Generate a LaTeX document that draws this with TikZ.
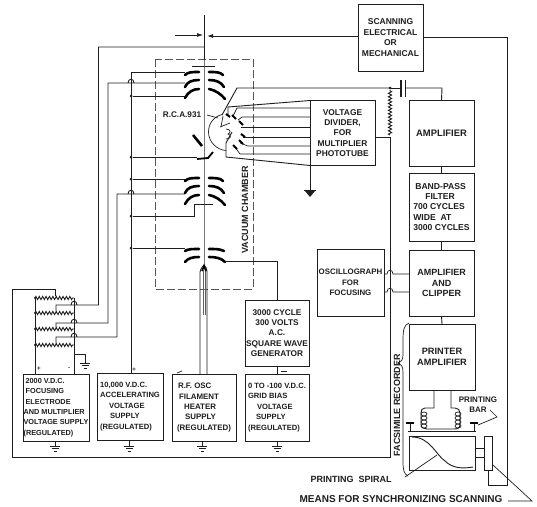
\documentclass[tikz,border=0pt]{standalone}
\usepackage{fontspec}
\setmainfont{Liberation Sans}
\usetikzlibrary{decorations.pathmorphing,arrows.meta}
\definecolor{ink}{HTML}{1E1E1E}
\newcommand{\txt}[1]{\fontsize{#1}{10.4}\selectfont\bfseries}
\newcommand{\hopat}[2]{-- (#1-3,#2) .. controls (#1-3,#2-5) and (#1+3,#2-5) .. (#1+3,#2)}
\newcommand{\gnd}[2]{\draw[wire] (#1,#2) -- (#1,#2+5) (#1-5,#2+5) -- (#1+5,#2+5) (#1-3.5,#2+7.5) -- (#1+3.5,#2+7.5) (#1-1.5,#2+10) -- (#1+1.5,#2+10);}
\tikzset{
  wire/.style={draw=ink,line width=0.9pt},
  thin wire/.style={draw=ink,line width=0.7pt},
  box/.style={draw=ink,line width=1pt,inner sep=0pt,outer sep=0pt,align=center,text=ink},
  label/.style={inner sep=0pt,outer sep=0pt,align=center,text=ink},
  electrode/.style={draw=black,line width=2.6pt,line cap=round},
  res/.style={wire,decorate,decoration={zigzag,amplitude=1.6pt,segment length=3.4pt}},
  dot/.style={circle,fill=ink,inner sep=0pt,minimum size=3pt},
  dyn/.style={draw=black,line width=2pt},
  x=1pt,y=-1pt
}
\begin{document}
\begin{tikzpicture}
\useasboundingbox[fill=white] (0,0) rectangle (537,506);
% boxes
\node[box,minimum width=65pt,minimum height=67pt,font=\txt{8.5}] (scan) at (390.5,37.5) {SCANNING\\ELECTRICAL\\OR\\MECHANICAL};
\node[box,minimum width=65pt,minimum height=65pt,font=\txt{8.4}] (vdiv) at (342.5,133) {VOLTAGE\\DIVIDER,\\FOR\\MULTIPLIER\\PHOTOTUBE};
\node[box,minimum width=65pt,minimum height=66pt,font=\txt{9.4}] (amp) at (441.5,133) {AMPLIFIER};
\node[box,minimum width=65pt,minimum height=68pt,font=\txt{8.6},align=left] (bpf) at (441.5,207) {\hspace*{2pt}BAND-PASS\\\hspace*{12pt}FILTER\\700 CYCLES\\WIDE\ \ AT\\3000 CYCLES};
\node[box,minimum width=65pt,minimum height=66pt,font=\txt{9}] (clip) at (441.5,283) {AMPLIFIER\\AND\\CLIPPER};
\node[box,minimum width=66pt,minimum height=66pt,font=\txt{9.2}] (pamp) at (442,357) {PRINTER\\AMPLIFIER};
\node[box,minimum width=67pt,minimum height=67pt,font=\txt{7.9}] (osc) at (350.5,282.5) {OSCILLOGRAPH\\FOR\\FOCUSING};
\node[box,minimum width=66pt,minimum height=67pt,font=\txt{7.3},align=left] (hv) at (56,407.5) {\hspace*{2pt}2000 V.D.C.\\\hspace*{2pt}FOCUSING\\\hspace*{2pt}ELECTRODE\\AND MULTIPLIER\\VOLTAGE SUPPLY\\(REGULATED)};
\node[box,minimum width=66pt,minimum height=67pt,font=\txt{7.6},align=left] (acc) at (130,406.5) {10,000 V.D.C.\\ACCELERATING\\\hspace*{9pt}VOLTAGE\\\hspace*{10pt}SUPPLY\\(REGULATED)};
\node[box,minimum width=64pt,minimum height=67pt,font=\txt{7.9},align=left] (rf) at (204,407.5) {\hspace*{1pt}R.F. OSC\\\hspace*{2pt}FILAMENT\\\hspace*{7pt}HEATER\\\hspace*{8pt}SUPPLY\\(REGULATED)};
\node[box,minimum width=64pt,minimum height=67pt,font=\txt{7.6},align=left] (bias) at (277,407.5) {0 TO -100 V.D.C.\\GRID BIAS\\\hspace*{9pt}VOLTAGE\\\hspace*{8pt}SUPPLY\\(REGULATED)};
\node[box,minimum width=64pt,minimum height=66pt,font=\txt{8.3}] (gen) at (277,333) {3000 CYCLE\\300 VOLTS\\A.C.\\SQUARE WAVE\\GENERATOR};
\node[box,minimum width=66pt,minimum height=34pt] (drum) at (442,453) {};
\node[box,minimum width=8pt,minimum height=34pt] (gear) at (488,453) {};
% labels
\node[label,font=\txt{8.2}] (rca) at (182,115) {R.C.A.931};
\node[label,rotate=90,font=\txt{9}] (vac) at (245,210) {VACUUM CHAMBER};
\node[label,rotate=90,font=\txt{9}] (fax) at (397,405) {FACSIMILE RECORDER};
\node[label,font=\txt{8}] (pbar) at (478,404.5) {PRINTING\\[-0.5pt]BAR};
\node[label,font=\txt{9}] (pspir) at (351,479) {PRINTING\ \ SPIRAL};
\node[label,font=\txt{10}] (means) at (401,499) {MEANS FOR SYNCHRONIZING SCANNING};
% vacuum chamber
\draw[draw=ink!75,line width=0.9pt,dash pattern=on 8pt off 3pt] (155,59) rectangle (253,289);
% beam axis
\coordinate (axtop) at (204,15);
\coordinate (axmid) at (204,60);
\coordinate (axbot) at (204,265);
\draw[wire] (axtop) -- (axmid);
\draw[draw=ink!60,line width=0.8pt] (axmid) -- (axbot);
\draw[thin wire] (192,66) -- (215,66);
% scan arrows
\coordinate (scanin) at (175,35);
\draw[thin wire,-{Latex[length=6pt,width=4pt]}] (scanin) -- (203,35);
\draw[wire,-{Latex[length=6pt,width=4pt]}] (scan.west |- 0,36) -- (207,36);
% electrodes
\foreach \d in {0,106}{
  \draw[electrode] (185,75+\d) .. controls (188,72+\d) and (192,72+\d) .. (199,72+\d);
  \draw[electrode] (185,87+\d) .. controls (187,82+\d) and (192,80+\d) .. (199,80+\d);
  \draw[electrode] (185,98+\d) .. controls (188,92+\d) and (193,89+\d) .. (199,89+\d);
  \draw[electrode] (209,72+\d) .. controls (216,72+\d) and (220,72+\d) .. (223,75+\d);
  \draw[electrode] (209,80+\d) .. controls (216,80+\d) and (221,82+\d) .. (224,87+\d);
  \draw[electrode] (209,89+\d) .. controls (215,90+\d) and (221,94+\d) .. (225,99+\d);
}
\draw[electrode] (185,251) .. controls (188,249) and (192,249) .. (199,249);
\draw[electrode] (185,262) .. controls (188,258) and (193,257) .. (199,257);
\draw[electrode] (209,249) .. controls (216,249) and (220,249) .. (224,251);
\draw[electrode] (209,257) .. controls (216,257) and (221,258) .. (225,262);
% bent element
\draw[draw=black,line width=2.6pt] (193,135) -- (202,146);
\draw[draw=black,line width=1.8pt] (213,152) -- (208,158) -- (197,159);
% filament
\draw[wire] (rf.north -| 200,0) -- (200,272) .. controls (201,268) and (203,266) .. (204,265) .. controls (205,266) and (207,268) .. (207,272) -- (rf.north -| 207,0);
\draw[draw=ink!70,line width=0.8pt] (203,270) -- (203,315) (205,270) -- (205,315);
\draw[draw=black,line width=1.6pt] (202,271) .. controls (203,268) and (204,267) .. (204,266) .. controls (204,267) and (205,268) .. (206,271);
% main bus x=131
\coordinate (bustop) at (131,72);
\draw[wire] (185,72) -- (bustop) -- (acc.north -| 131,0);
\foreach \y in {96,157,179,216,248}{ \node[dot] (bus\y) at (131,\y) {}; }
\draw[wire] (bus96) -- (185,96);
\draw[wire] (bus157) -- (197,157);
\draw[wire] (bus179) -- (185,179);
\draw[wire] (bus216) -- (194,216) -- (194,204) -- (213,204);
\draw[wire] (bus248) -- (185,248);
% outer wires to ladder
\coordinate (w1a) at (204,47);
\draw[wire] (w1a) -- (98.5,47) -- (98.5,305) \hopat{74}{305} -- (56,305) -- (56,311);
\draw[wire] (185,83) \hopat{131}{83} -- (108,83) -- (108,323) \hopat{74}{323} -- (56,323) -- (56,327);
\draw[wire] (185,194) \hopat{131}{194} -- (117,194) -- (117,337) \hopat{74}{337} -- (56,337) -- (56,343);
% grid to generator
\draw[wire] (225,261) -- (277,261) -- (gen.north);
\draw[wire] (gen.south) -- (bias.north);
\draw[thin wire] (281,371.5) -- (287,371.5);
% ladder
\draw[wire] (35,298) -- (35,374);
\draw[wire] (74,298) -- (74,374);
\foreach \y in {298,313,329,345}{ \draw[res] (35,\y) -- (74,\y); \node[dot,minimum size=2.4pt] (lad\y) at (35,\y) {}; }
\draw[wire] (55,296) -- (55,289) -- (12,289) -- (12,457) -- (390,457) -- (390,137);
\draw[res] (390,135) -- (390,90);
\draw[wire] (74,354) -- (85,354) -- (85,358);
\gnd{85}{358}
\node[label,font=\txt{6}] (plus1) at (39,369) {+};
\node[label,font=\txt{6}] (minus1) at (69,369) {-};
\node[label,font=\txt{6}] (plus2) at (134,370) {+};
\draw[thin wire] (177,373) -- (182,371);
% grounds
\gnd{55}{441}
\gnd{129}{441}
\gnd{202}{441}
\gnd{277}{441}
% photomultiplier
\draw[thin wire] (222,114.5) .. controls (213,117) and (208.5,124) .. (208.5,132) .. controls (208.5,142) and (217,150) .. (226,150.5);
\draw[thin wire] (207,115) -- (218,118);
\draw[wire] (222,115) -- (237,88) -- (390,88);
\node[dot] (jct) at (390,88) {};
\draw[wire] (228,115) -- (228,107) -- (vdiv.north west);
\draw[thin wire] (233,116) -- (237,108) -- (310,108);
\draw[thin wire] (238,120) -- (242,117) -- (310,117);
\draw[thin wire] (241,127) -- (310,127);
\draw[thin wire] (243,137) -- (310,137);
\draw[thin wire] (240,143) -- (248,146) -- (310,146);
\draw[thin wire] (235,147) -- (240,154) -- (310,154);
\draw[wire] (232,132) -- (226,143) -- (226,157) -- (vdiv.south west);
\draw[thin wire] (223,116) -- (221,127);
\draw[thin wire] (220,127) -- (230,123);
\draw[thin wire] (226,129) .. controls (231,129) and (231,133) .. (228,134) .. controls (232,135) and (231,139) .. (226,139);
\draw[dyn] (226,114) -- (230,117);
\draw[dyn] (232,115) -- (236,119);
\draw[dyn] (239,121) -- (243,125);
\draw[dyn] (241,134) -- (245,137);
\draw[dyn] (239,140) -- (243,144);
\draw[dyn] (233,145) -- (237,149);
% divider ground
\draw[wire] (vdiv.south west) -- (310,190);
\draw[wire] (304,190) -- (316,190);
\fill[ink] (305,191) -- (315,191) -- (310,197) -- cycle;
% divider to load
\draw[wire] (vdiv.east |- 0,137) -- (390,137);
% capacitor
\draw[wire] (390,88) -- (401,88);
\draw[line width=1.5pt,draw=ink] (401,80) -- (401,97) (405.5,80) -- (405.5,97);
\draw[wire] (405.5,88) -- (442,88) -- (amp.north);
% amp chain
\draw[wire] (amp.south) -- (bpf.north);
\draw[wire] (bpf.south) -- (clip.north);
\draw[wire] (clip.south) -- (pamp.north);
% oscillograph
\draw[thin wire] (osc.east |- 0,274) \hopat{390}{274} -- (clip.west |- 0,274);
\draw[thin wire] (osc.east |- 0,292) \hopat{390}{292} -- (clip.west |- 0,292);
% scanning loop
\draw[wire] (scan.east |- 0,37) -- (507,37) -- (507,485) -- (488,485) -- (gear.south);
% facsimile brace
\draw[thin wire] (409,323) .. controls (404,325) and (403,330) .. (403,340) -- (403,355) .. controls (403,360) and (401,362) .. (398,363) .. controls (401,364) and (403,366) .. (403,372) -- (403,462) .. controls (403,470) and (404,474) .. (408,476);
% printer head
\draw[wire] (434,390) -- (434,408) -- (425,408) .. controls (422,408) and (421,410) .. (421,413) -- (421,424) .. controls (421,428) and (424,429) .. (427,429) -- (454,429) .. controls (458,429) and (460,428) .. (460,424) -- (460,413) .. controls (460,410) and (458,408) .. (455,408) -- (451,408) -- (451,390);
\foreach \y in {414,418,422,426}{
  \draw[thin wire] (424,\y) ellipse [x radius=3pt,y radius=2pt];
  \draw[thin wire] (458,\y) ellipse [x radius=3pt,y radius=2pt];
}
\draw[draw=black,line width=2pt] (406,422.5) -- (414,422.5) (470,422.5) -- (478,422.5);
\draw[wire] (410,422.5) -- (410,431) (474,422.5) -- (474,431);
\draw[wire] (408,431) -- (476,431);
\draw[thin wire] (490,410) -- (497,417) -- (478,425);
% drum
\draw[wire] (412,437) .. controls (430,437) and (436,455) .. (445,461) .. controls (452,468) and (462,469) .. (473,467);
\draw[wire] (drum.east |- 0,448) -- (gear.west |- 0,448);
\draw[wire] (drum.east |- 0,457) -- (gear.west |- 0,457);
\draw[thin wire] (405,477) -- (437,455);
% sync leader
\draw[thin wire] (493,465) -- (532,501) -- (508,501);
\end{tikzpicture}
\end{document}
